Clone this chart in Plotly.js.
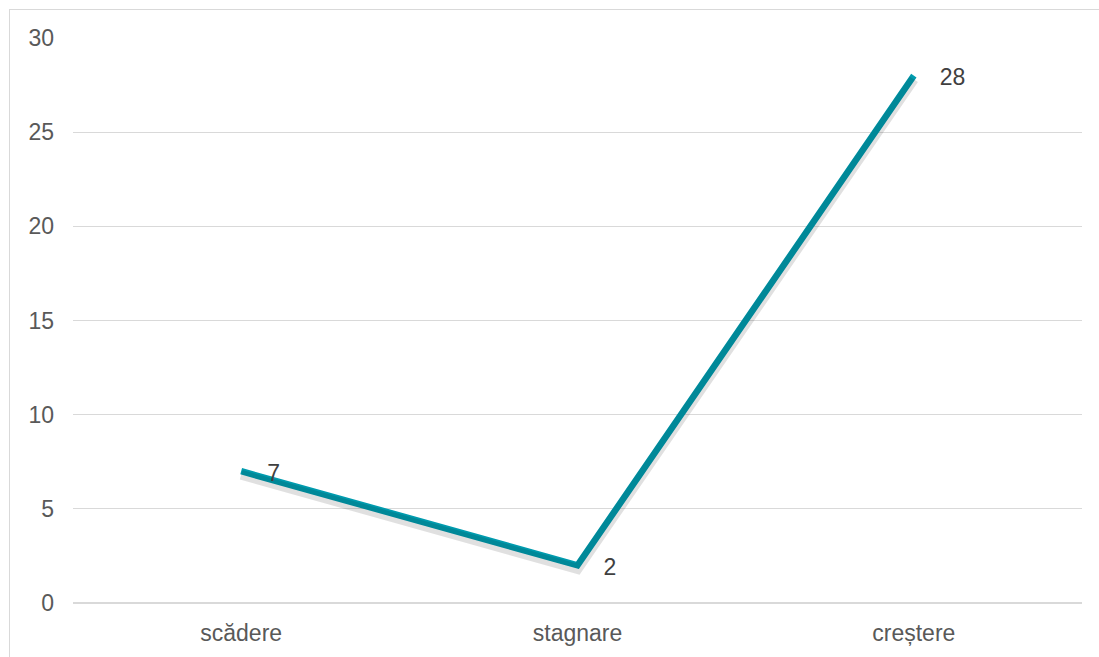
<!DOCTYPE html>
<html>
<head>
<meta charset="utf-8">
<script src="https://cdn.plot.ly/plotly-3.0.1.min.js"></script>
<style>
html,body{margin:0;padding:0;background:#fff;overflow:hidden;}
#frame{position:absolute;left:9px;top:9px;width:1200px;height:800px;border:1px solid #d9d9d9;}
#chart{position:absolute;left:0;top:0;width:1099px;height:657px;}
</style>
</head>
<body>
<div id="frame"></div>
<div id="chart"></div>
<script>
const categories = ["scădere", "stagnare", "creștere"];
const values = [7, 2, 28];
const yTicks = [0, 5, 10, 15, 20, 25, 30];

const shadow = {
  x: categories, y: values, type: 'scatter', mode: 'lines',
  yaxis: 'y2', hoverinfo: 'skip', showlegend: false,
  line: {color: 'rgba(0,0,0,0.12)', width: 10}
};
const main = {
  x: categories, y: values, type: 'scatter', mode: 'lines',
  line: {color: '#009BAE', width: 6.5}, showlegend: false
};
const labels = {
  x: categories, y: values, type: 'scatter', mode: 'markers+text',
  yaxis: 'y2', hoverinfo: 'skip', showlegend: false, cliponaxis: false,
  text: values.map(String), textposition: 'middle right',
  textfont: {family: 'Liberation Sans, Arial, sans-serif', size: 23, color: '#404040'},
  marker: {size: 40, opacity: 0}
};

const layout = {
  width: 1099, height: 657,
  margin: {l: 73, r: 17, t: 38, b: 54},
  paper_bgcolor: 'rgba(0,0,0,0)', plot_bgcolor: 'rgba(0,0,0,0)',
  font: {family: 'Liberation Sans, Arial, sans-serif', size: 23, color: '#595959'},
  xaxis: {
    type: 'category', range: [-0.5, 2.5], showgrid: false, zeroline: false,
    showline: false, ticks: '', ticklabelstandoff: 14,
    tickfont: {size: 23, color: '#595959'}
  },
  yaxis: {
    range: [0, 30], tickvals: yTicks, ticktext: yTicks.map(String),
    showgrid: true, gridcolor: '#d9d9d9', gridwidth: 1,
    zeroline: true, zerolinecolor: '#d9d9d9', zerolinewidth: 2,
    showline: false, ticks: '', ticklabelstandoff: 18,
    tickfont: {size: 23, color: '#595959'}
  },
  yaxis2: {range: [0.19, 30.19], overlaying: 'y', visible: false}
};

Plotly.newPlot('chart', [shadow, main, labels], layout, {displayModeBar: false, staticPlot: true});
</script>
</body>
</html>
